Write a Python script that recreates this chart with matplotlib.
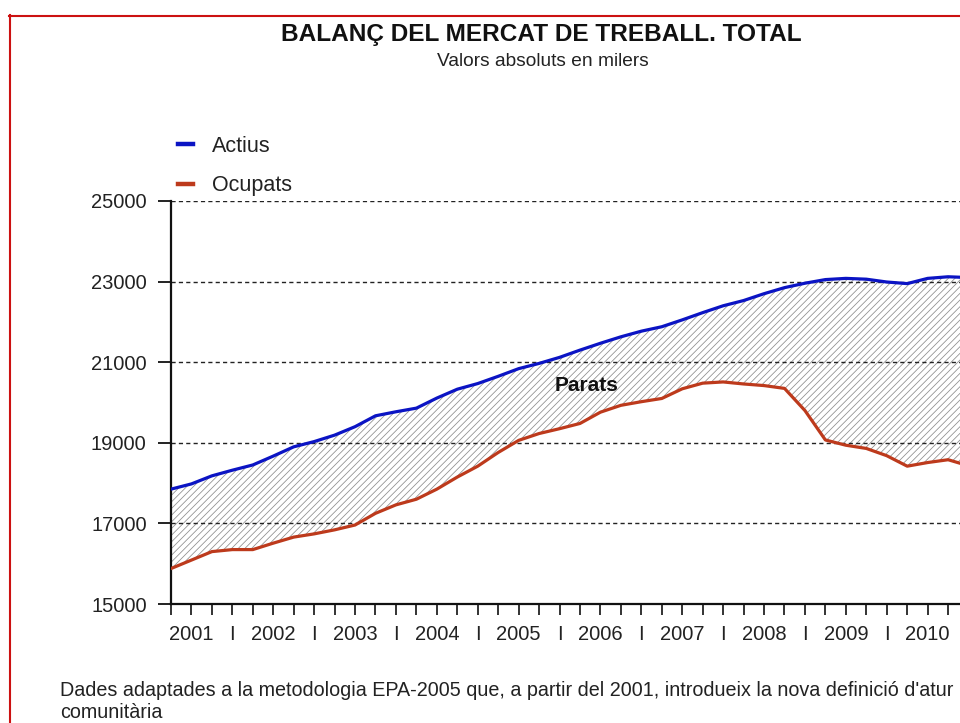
import matplotlib
matplotlib.use("Agg")
import matplotlib.pyplot as plt
from matplotlib.lines import Line2D
import numpy as np

plt.rcParams['font.family'] = ['Liberation Sans', 'DejaVu Sans']
plt.rcParams['hatch.linewidth'] = 0.55

# ---- data (thousands), quarterly 2001 T1 .. 2010 T4 ----
actius = [17850, 17980, 18180, 18320, 18450, 18670, 18900, 19030, 19190, 19400,
          19670, 19770, 19860, 20110, 20330, 20470, 20650, 20840, 20970, 21120,
          21300, 21470, 21630, 21770, 21880, 22050, 22230, 22400, 22530, 22700,
          22850, 22960, 23050, 23080, 23060, 22990, 22950, 23080, 23120, 23100]
ocupats = [15880, 16090, 16300, 16350, 16350, 16510, 16660, 16740, 16840, 16960,
           17250, 17460, 17600, 17850, 18150, 18420, 18760, 19060, 19230, 19350,
           19480, 19760, 19930, 20020, 20100, 20340, 20480, 20510, 20460, 20420,
           20350, 19800, 19070, 18940, 18860, 18680, 18420, 18510, 18580, 18430]
years = ['2001', '2002', '2003', '2004', '2005', '2006', '2007', '2008', '2009', '2010']
y_ticks = [15000, 17000, 19000, 21000, 23000, 25000]
series_names = ['Actius', 'Ocupats']
gap_label = 'Parats'

W, H = 960, 723
fig = plt.figure(figsize=(W / 100, H / 100), dpi=100)

# axes geometry (pixels): y axis at x=171, 15000 at y=604, 25000 at y=201
x0_px, px_per_q = 171, 20.45
n_q = 42
left = x0_px / W
width = n_q * px_per_q / W
bottom = (H - 604) / H
height = (604 - 201) / H
ax = fig.add_axes([left, bottom, width, height])

q = np.arange(len(actius))
blue = '#0b14c4'
red = '#bd3a1c'

ax.fill_between(q, ocupats, actius, facecolor='none', edgecolor='#8c8c8c',
                hatch='/////', linewidth=0, zorder=1)
ax.plot(q, actius, color=blue, lw=2.3, zorder=3, label=series_names[0])
ax.plot(q, ocupats, color=red, lw=2.3, zorder=3, label=series_names[1])

ax.set_xlim(0, n_q)
ax.set_ylim(y_ticks[0], y_ticks[-1])
ax.set_yticks(y_ticks)
ax.set_yticklabels([str(v) for v in y_ticks])

ticks = list(range(0, n_q))
labels = []
for t in ticks:
    if t % 4 == 1 and t // 4 < len(years):
        labels.append(years[t // 4])
    elif t % 4 == 3 and t // 4 < len(years) - 1:
        labels.append('I')
    else:
        labels.append('')
ax.set_xticks(ticks)
ax.set_xticklabels(labels)

for yv in y_ticks[1:]:
    ax.axhline(yv, color='#222222', lw=1.0, linestyle=(0, (3, 2.3)), zorder=2)

for s in ['top', 'right']:
    ax.spines[s].set_visible(False)
ax.spines['left'].set_linewidth(1.6)
ax.spines['bottom'].set_linewidth(1.6)
ax.spines['left'].set_color('#111111')
ax.spines['bottom'].set_color('#111111')

ax.tick_params(axis='y', direction='out', length=9.5, width=1.3, pad=8,
               labelsize=14.5, labelcolor='#222222', color='#111111')
ax.tick_params(axis='x', direction='out', length=8, width=1.2, pad=7,
               labelsize=14.5, labelcolor='#222222', color='#111111')

ax.text(20.3, 20430, gap_label, ha='center', va='center', fontsize=15,
        fontweight='bold', color='#111111', zorder=4)

leg = ax.legend(loc='upper left', bbox_to_anchor=(178 / W, 1 - 136 / H),
                bbox_transform=fig.transFigure, frameon=False, fontsize=15.5,
                handlelength=0.7, handletextpad=0.9, labelspacing=0.85,
                borderpad=0, borderaxespad=0)
for h in leg.get_lines():
    h.set_linewidth(3.2)
for t in leg.get_texts():
    t.set_color('#222222')

fig.text(541 / W, 1 - 35 / H, 'BALANÇ DEL MERCAT DE TREBALL. TOTAL', ha='center',
         va='center', fontsize=17.6, fontweight='bold', color='#111111')
fig.text(543 / W, 1 - 62 / H, 'Valors absoluts en milers', ha='center', va='center',
         fontsize=13.8, color='#222222')

fig.text(60 / W, 1 - 690 / H,
         "Dades adaptades a la metodologia EPA-2005 que, a partir del 2001, introdueix la nova definició d'atur",
         ha='left', va='center', fontsize=14.2, color='#222222')
fig.text(60 / W, 1 - 712 / H, 'comunitària', ha='left', va='center',
         fontsize=14.2, color='#222222')

# red frame (left and top edges visible)
fig.add_artist(Line2D([9.5 / W, 9.5 / W], [0, 1 - 15 / H], transform=fig.transFigure,
                      color='#cc1111', lw=1.5))
fig.add_artist(Line2D([9 / W, 1], [1 - 15.5 / H, 1 - 15.5 / H], transform=fig.transFigure,
                      color='#cc1111', lw=1.5))

fig.savefig('out.png', dpi=100)
